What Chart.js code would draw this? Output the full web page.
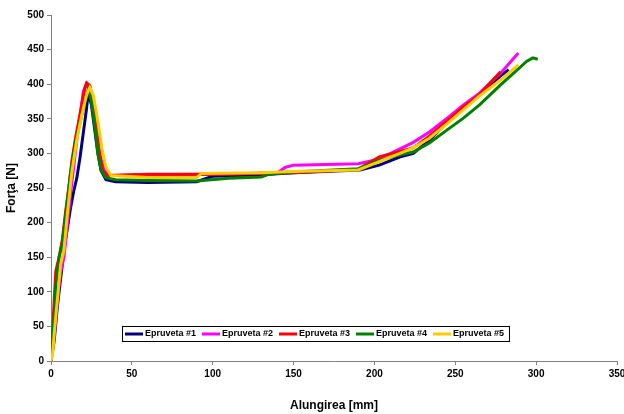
<!DOCTYPE html>
<html>
<head>
<meta charset="utf-8">
<script src="https://cdn.jsdelivr.net/npm/chart.js@4/dist/chart.umd.min.js"></script>
<style>
  html, body { margin: 0; padding: 0; background: #fff; }
  #wrap { width: 624px; height: 414px; position: relative; }
</style>
</head>
<body>
<div id="wrap"><canvas id="forceChart"></canvas></div>
<script>
const seriesNames = ['Epruveta #1', 'Epruveta #2', 'Epruveta #3', 'Epruveta #4', 'Epruveta #5'];
const seriesColors = ['#000080', '#FF00FF', '#FF0000', '#008000', '#FFCC00'];

const xTicks = [0, 50, 100, 150, 200, 250, 300, 350];
const yTicks = [0, 50, 100, 150, 200, 250, 300, 350, 400, 450, 500];

// Epruveta #1
const ep1X = [0, 2, 4, 6, 8, 10, 12, 14, 16, 18, 20, 22, 23, 25, 27, 29, 31, 34, 40, 60, 90, 95, 100, 130, 150, 191, 203, 216, 224, 234, 245, 255, 265, 278, 283];
const ep1Y = [0, 30, 80, 120, 160, 190, 220, 245, 265, 295, 330, 365, 388, 370, 335, 300, 275, 262, 259, 258, 259, 263, 267, 269, 272, 276, 283, 295, 300, 319, 345, 366, 385, 412, 421];

// Epruveta #2
const ep2X = [0, 2, 4, 6, 8, 10, 12, 14, 16, 18, 20, 22, 24, 26, 28, 30, 33, 37, 60, 100, 140, 145, 150, 170, 190, 200, 210, 224, 234, 245, 255, 265, 278, 289];
const ep2Y = [0, 40, 90, 130, 150, 195, 240, 280, 320, 355, 390, 400, 395, 370, 335, 300, 275, 268, 269, 270, 272, 280, 283, 284, 285, 290, 300, 316, 331, 351, 370, 387, 416, 445];

// Epruveta #3
const ep3X = [0, 1, 2, 3, 5, 7, 9, 11, 13, 15, 17, 19, 21, 22, 24, 26, 28, 30, 32, 35, 60, 100, 150, 190, 203, 224, 234, 245, 255, 265, 278];
const ep3Y = [0, 40, 90, 130, 150, 175, 215, 250, 290, 320, 345, 370, 395, 402, 398, 375, 340, 300, 275, 268, 270, 270, 272, 277, 295, 308, 325, 347, 367, 385, 418];

// Epruveta #4
const ep4X = [0, 1, 3, 5, 7, 9, 12, 15, 18, 21, 23, 25, 27, 29, 31, 34, 40, 60, 90, 110, 130, 135, 150, 190, 203, 216, 224, 234, 245, 255, 265, 278, 289, 294, 298, 301];
const ep4Y = [0, 30, 110, 150, 170, 210, 270, 315, 345, 375, 392, 375, 340, 300, 275, 265, 262, 261, 260, 264, 266, 270, 273, 278, 290, 298, 302, 315, 334, 351, 370, 399, 422, 433, 438, 436];

// Epruveta #5
const ep5X = [0, 1, 2, 4, 6, 8, 10, 13, 16, 19, 22, 24, 26, 28, 30, 32, 34, 37, 60, 90, 93, 130, 150, 190, 203, 224, 234, 245, 255, 265, 278, 289];
const ep5Y = [0, 10, 40, 90, 140, 160, 210, 275, 320, 355, 385, 395, 385, 360, 330, 300, 280, 268, 265, 265, 271, 272, 274, 276, 288, 308, 322, 343, 363, 383, 406, 428];

const seriesX = [ep1X, ep2X, ep3X, ep4X, ep5X];
const seriesY = [ep1Y, ep2Y, ep3Y, ep4Y, ep5Y];

const boxLegend = {
    id: 'boxLegend',
    afterDraw(chart) {
        const ctx = chart.ctx;
        const left = 122, top = 326, width = 387, height = 15, step = 77;
        ctx.save();
        ctx.fillStyle = '#fff';
        ctx.fillRect(left, top, width, height);
        ctx.strokeStyle = '#000';
        ctx.lineWidth = 1;
        ctx.strokeRect(left + 0.5, top + 0.5, width, height);
        ctx.font = 'bold 9px "Liberation Sans", Arial, sans-serif';
        ctx.textBaseline = 'middle';
        chart.data.datasets.forEach((ds, i) => {
            const x = left + 3 + i * step;
            const y = top + height / 2 + 0.5;
            ctx.strokeStyle = ds.borderColor;
            ctx.lineWidth = 3;
            ctx.beginPath();
            ctx.moveTo(x, y);
            ctx.lineTo(x + 18, y);
            ctx.stroke();
            ctx.fillStyle = '#000';
            ctx.fillText(ds.label, x + 20, y);
        });
        ctx.restore();
    }
};

function renderChart() {
    const ctx = document.getElementById('forceChart').getContext('2d');
    const tickFont = { family: '"Liberation Sans", Arial, sans-serif', size: 10, weight: 'bold' };
    const titleFont = { family: '"Liberation Sans", Arial, sans-serif', size: 12, weight: 'bold' };

    new Chart(ctx, {
        type: 'line',
        data: {
            datasets: seriesNames.map((name, i) => ({
                label: name,
                data: seriesX[i].map((x, j) => ({ x: x, y: seriesY[i][j] })),
                borderColor: seriesColors[i],
                backgroundColor: seriesColors[i],
                borderWidth: 3,
                pointRadius: 0,
                tension: 0,
                order: seriesNames.length - i
            }))
        },
        options: {
            responsive: true,
            maintainAspectRatio: false,
            animation: false,
            layout: { padding: { top: 15, right: 7, left: 0, bottom: 0 } },
            plugins: { legend: { display: false }, tooltip: { enabled: false } },
            scales: {
                x: {
                    type: 'linear',
                    min: 0,
                    max: 350,
                    afterBuildTicks: s => { s.ticks = xTicks.map(v => ({ value: v })); },
                    afterFit: s => { s.height = 53; s.paddingRight = 0; s.paddingLeft = 0; },
                    grid: { drawOnChartArea: false, color: '#808080', tickLength: 4 },
                    border: { color: '#808080', width: 1 },
                    ticks: { color: '#000', font: tickFont, maxRotation: 0, padding: 3 },
                    title: { display: true, text: 'Alungirea [mm]', color: '#000', font: titleFont, padding: { top: 4, bottom: 1 } }
                },
                y: {
                    min: 0,
                    max: 500,
                    afterBuildTicks: s => { s.ticks = yTicks.map(v => ({ value: v })); },
                    afterFit: s => { s.width = 51; s.paddingTop = 0; s.paddingBottom = 0; },
                    grid: { drawOnChartArea: false, color: '#808080', tickLength: 4 },
                    border: { color: '#808080', width: 1 },
                    ticks: { color: '#000', font: tickFont, padding: 3 },
                    title: { display: true, text: 'Forţa [N]', color: '#000', font: titleFont, padding: { bottom: 4 } }
                }
            }
        },
        plugins: [boxLegend]
    });
}

window.onload = renderChart;
</script>
</body>
</html>
